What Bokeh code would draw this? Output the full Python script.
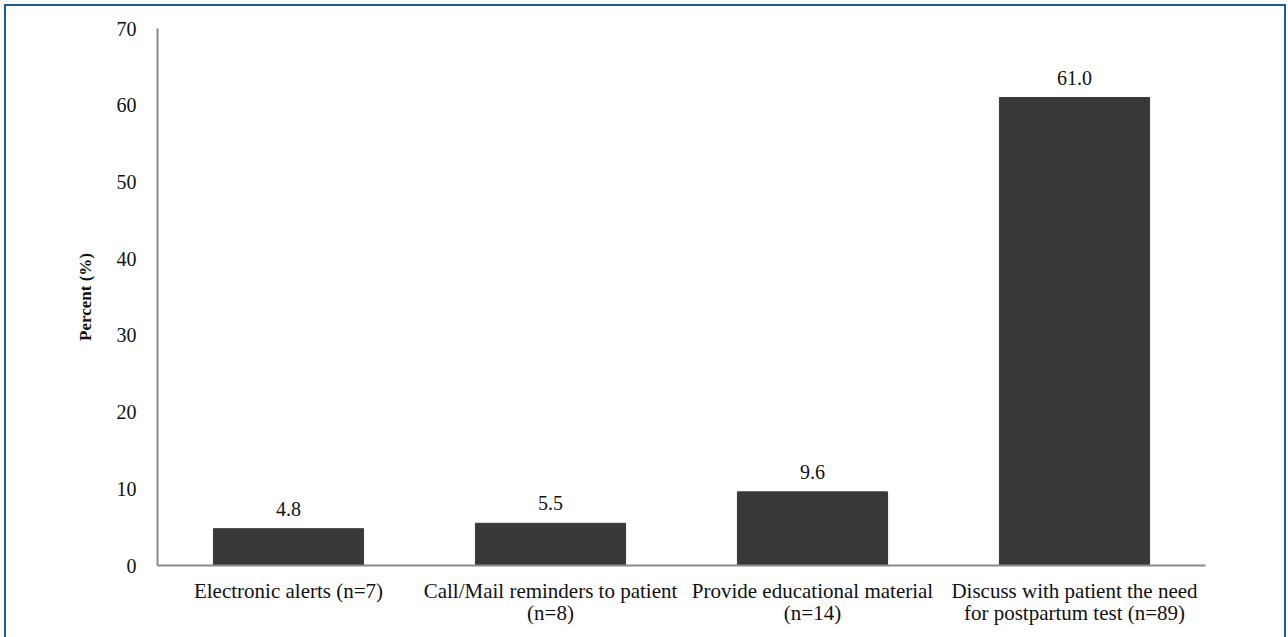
from bokeh.plotting import figure
from bokeh.models import ColumnDataSource, LabelSet, CategoricalAxis, FactorRange
from bokeh.embed import file_html
from bokeh.resources import INLINE

# category names, split over the two label lines of the reference
categories_line1 = ["Electronic alerts (n=7)", "Call/Mail reminders to patient",
                    "Provide educational material", "Discuss with patient the need"]
categories_line2 = [" ", "(n=8)", "(n=14)", "for postpartum test (n=89)"]
values = [4.8, 5.5, 9.6, 61.0]
value_labels = ["4.8", "5.5", "9.6", "61.0"]
y_ticks = [0, 10, 20, 30, 40, 50, 60, 70]

FONT = "Liberation Serif"

src = ColumnDataSource(dict(cat=categories_line1, val=values, lab=value_labels))

p = figure(x_range=FactorRange(factors=categories_line1), y_range=(0, 70), width=1282, height=633,
           output_backend="svg", toolbar_location=None,
           min_border_left=151, min_border_right=83, min_border_top=22, min_border_bottom=74)
p.extra_x_ranges = {"l2": FactorRange(factors=categories_line2)}
p.margin = (4, 0, 0, 4)
p.styles = {"border-left": "2px solid #1d5c8c", "border-top": "2px solid #1d5c8c",
            "border-right": "2px solid #1d5c8c", "box-sizing": "border-box"}

p.vbar(x="cat", top="val", width=0.573, source=src, fill_color="#383838", line_color="#383838")
p.add_layout(LabelSet(x="cat", y="val", text="lab", source=src, text_align="center",
                      text_baseline="bottom", y_offset=13, text_font=FONT,
                      text_font_size="20px", text_color="#111111"))

p.xgrid.grid_line_color = None
p.ygrid.grid_line_color = None
p.outline_line_color = None

p.yaxis.ticker = y_ticks
for ax in (p.xaxis[0], p.yaxis[0]):
    ax.axis_line_color = "#8a8a8a"
    ax.axis_line_width = 2
    ax.major_tick_line_color = None
    ax.minor_tick_line_color = None
    ax.major_label_text_font = FONT
    ax.major_label_text_color = "#111111"

p.yaxis.major_label_text_font_size = "20px"
p.yaxis.major_label_standoff = 15
p.yaxis.axis_label = "Percent (%)"
p.yaxis.axis_label_text_font = FONT
p.yaxis.axis_label_text_font_style = "bold"
p.yaxis.axis_label_text_font_size = "17px"
p.yaxis.axis_label_text_color = "#111111"
p.yaxis.axis_label_standoff = 19

p.xaxis.major_label_text_font_size = "21px"
p.xaxis.major_label_standoff = 7

ax2 = CategoricalAxis(x_range_name="l2", axis_line_color=None, major_tick_line_color=None,
                      minor_tick_line_color=None, major_label_text_font=FONT,
                      major_label_text_font_size="21px", major_label_text_color="#111111",
                      major_label_standoff=-11)
p.add_layout(ax2, "below")

open("out.html", "w").write(file_html(p, INLINE))
